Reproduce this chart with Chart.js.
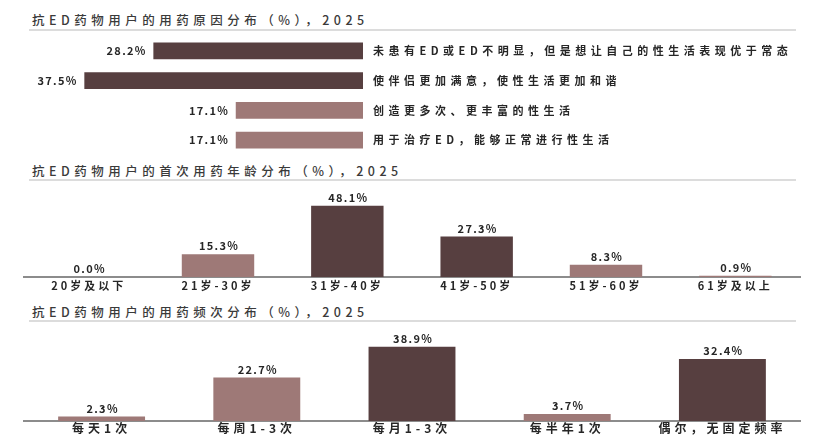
<!DOCTYPE html>
<html>
<head>
<meta charset="utf-8">
<script src="https://cdn.jsdelivr.net/npm/chart.js@4.4.0/dist/chart.umd.min.js"></script>
<style>
  html, body { margin: 0; padding: 0; background: #fff; }
  body { width: 830px; height: 440px; position: relative; overflow: hidden; font-family: "Noto Sans CJK SC", sans-serif; }
  .title { position: absolute; left: 32px; font-size: 12.5px; font-weight: 500; color: #3a3a3a; letter-spacing: 4.5px; line-height: 16px; white-space: nowrap; }
  .rule { position: absolute; left: 29px; width: 767px; height: 2px; background: #dcdcdc; }
  .box { position: absolute; left: 0; width: 830px; }
</style>
</head>
<body>
<div class="title" style="top:12px">抗ED药物用户的用药原因分布（%），2025</div>
<div class="rule" style="top:29px"></div>
<div class="box" style="top:36px;height:119px"><canvas id="reason"></canvas></div>

<div class="title" style="top:163px">抗ED药物用户的首次用药年龄分布（%），2025</div>
<div class="rule" style="top:179px"></div>
<div class="box" style="top:185px;height:115px"><canvas id="age"></canvas></div>

<div class="title" style="top:304px">抗ED药物用户的用药频次分布（%），2025</div>
<div class="rule" style="top:320px"></div>
<div class="box" style="top:325px;height:115px"><canvas id="freq"></canvas></div>

<script>
const reasonLabels = ['未患有ED或ED不明显，但是想让自己的性生活表现优于常态', '使伴侣更加满意，使性生活更加和谐', '创造更多次、更丰富的性生活', '用于治疗ED，能够正常进行性生活']
const reasonValues = [28.2, 37.5, 17.1, 17.1]

const ageLabels = ['20岁及以下', '21岁-30岁', '31岁-40岁', '41岁-50岁', '51岁-60岁', '61岁及以上']
const ageValues = [0.0, 15.3, 48.1, 27.3, 8.3, 0.9]

const freqLabels = ['每天1次', '每周1-3次', '每月1-3次', '每半年1次', '偶尔，无固定频率']
const freqValues = [2.3, 22.7, 38.9, 3.7, 32.4]

const FONT = '"Noto Sans CJK SC", sans-serif'
const DARK = '#573f40'
const LIGHT = '#9e7977'
const TEXT = '#262626'

// the two biggest shares get the dark colour
function barColor(values) {
    const second = [...values].sort((a, b) => b - a)[1]
    return ctx => values[ctx.dataIndex] >= second ? DARK : LIGHT
}

// canvas letter spacing, the original text is spread out
const spacing = {
    id: 'spacing',
    beforeDraw(chart, args, opts) {
        chart.ctx.letterSpacing = opts.value || '0px'
    }
}

// percentage labels next to each bar
const valueLabels = {
    id: 'valueLabels',
    afterDatasetsDraw(chart) {
        const ctx = chart.ctx
        const values = chart.data.datasets[0].data
        ctx.save()
        ctx.font = 'bold 11px ' + FONT
        ctx.fillStyle = TEXT
        ctx.letterSpacing = '1.3px'
        ctx.textBaseline = 'middle'
        chart.getDatasetMeta(0).data.forEach((bar, i) => {
            const text = values[i].toFixed(1) + '%'
            if (chart.options.indexAxis === 'y') {
                ctx.textAlign = 'right'
                ctx.fillText(text, bar.x - 7, bar.y)
            } else {
                ctx.textAlign = 'center'
                ctx.fillText(text, bar.x + 1, bar.y - 8)
            }
        })
        ctx.restore()
    }
}

// category names to the right of the horizontal bars, placed on the y scale
const sideLabels = {
    id: 'sideLabels',
    afterDraw(chart) {
        const ctx = chart.ctx
        const y = chart.scales.y
        ctx.save()
        ctx.font = 'bold 11px ' + FONT
        ctx.fillStyle = TEXT
        ctx.letterSpacing = '4.5px'
        ctx.textAlign = 'left'
        ctx.textBaseline = 'middle'
        chart.data.labels.forEach((label, i) => {
            ctx.fillText(label, chart.chartArea.right + 10, y.getPixelForValue(i))
        })
        ctx.restore()
    }
}

const common = {
    responsive: true,
    maintainAspectRatio: false,
    animation: false,
    events: []
}

new Chart(document.getElementById('reason'), {
    type: 'bar',
    data: {
        labels: reasonLabels,
        datasets: [{
            data: reasonValues,
            backgroundColor: barColor(reasonValues),
            barThickness: 16
        }]
    },
    options: {
        ...common,
        indexAxis: 'y',
        layout: {padding: {left: 29, right: 467, top: 0, bottom: 0}},
        plugins: {legend: {display: false}, tooltip: {enabled: false}},
        scales: {
            x: {display: false, reverse: true, min: 0, max: 45},
            y: {display: false}
        }
    },
    plugins: [valueLabels, sideLabels]
})

function columnChart(id, labels, values, max, axisHeight, padTop, fontSize, gap, tickPad) {
    return new Chart(document.getElementById(id), {
        type: 'bar',
        data: {
            labels: labels,
            datasets: [{
                data: values,
                backgroundColor: barColor(values),
                categoryPercentage: 1,
                barPercentage: 0.56
            }]
        },
        options: {
            ...common,
            layout: {padding: {left: 24, right: 30, top: padTop, bottom: 0}},
            plugins: {legend: {display: false}, tooltip: {enabled: false}, spacing: {value: gap}},
            scales: {
                x: {
                    grid: {display: false, drawTicks: false},
                    border: {display: true, color: '#8c8c8c', width: 2},
                    ticks: {padding: tickPad, color: TEXT, maxRotation: 0, autoSkip: false, font: {family: FONT, size: fontSize, weight: 'bold'}},
                    afterFit: s => { s.height = axisHeight }
                },
                y: {display: false, min: 0, max: max}
            }
        },
        plugins: [spacing, valueLabels]
    })
}

columnChart('age', ageLabels, ageValues, 60, 23, 3, 11, '3px', 2)
columnChart('freq', freqLabels, freqValues, 45, 19, 10, 12, '4px', 0)
</script>
</body>
</html>
